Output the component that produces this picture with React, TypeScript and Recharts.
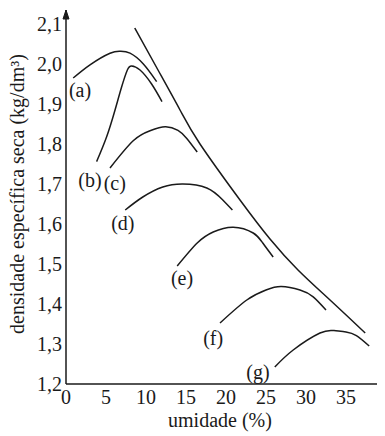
import { LineChart, Line, XAxis, YAxis, ReferenceDot } from "recharts";

// umidade (%) vs densidade (kg/dm³)
const curveA = [
  [0.9, 1.965], [3, 1.998], [5.5, 2.027], [6.8, 2.032], [8, 2.027],
  [9.67, 2.0], [11.33, 1.956],
];
const curveB = [
  [3.83, 1.756], [5.08, 1.818], [6.13, 1.885], [6.96, 1.943], [7.67, 1.985],
  [8.2, 1.995], [9.25, 1.985], [10.7, 1.95], [12, 1.906],
];
const curveC = [
  [5.5, 1.74], [8.4, 1.808], [10.5, 1.833], [12.4, 1.843], [14, 1.834],
  [15.1, 1.814], [16.4, 1.78],
];
const curveD = [
  [7.4, 1.635], [9.6, 1.6675], [12.1, 1.6925], [14.6, 1.7], [17.6, 1.69],
  [19.6, 1.66], [20.8, 1.635],
];
const curveE = [
  [13.9, 1.495], [16.4, 1.5525], [18.4, 1.58], [20.9, 1.592], [23.4, 1.5775],
  [24.6, 1.5525], [25.9, 1.5175],
];
const curveF = [
  [19.25, 1.3525], [22.6, 1.41], [25, 1.435], [26.9, 1.4435], [29.25, 1.435],
  [30.9, 1.418], [32.5, 1.385],
];
const curveG = [
  [26.1, 1.2425], [28.4, 1.285], [31.75, 1.3275], [33.5, 1.3335], [35, 1.33],
  [36.3, 1.321], [37.9, 1.295],
];
const saturation = [
  [8.6, 2.09], [11.5, 1.985], [14.25, 1.885], [16.75, 1.8], [21.75, 1.66],
  [25.5, 1.5625], [29, 1.485], [33, 1.41], [37.4, 1.3275],
];

const curves = [curveA, curveB, curveC, curveD, curveE, curveF, curveG];

const curveLabels = ["(a)", "(b)", "(c)", "(d)", "(e)", "(f)", "(g)"];
const labelX = [1.75, 3, 6.1, 7.1, 14.5, 18.4, 24];
const labelY = [1.935, 1.71, 1.7025, 1.6025, 1.465, 1.315, 1.23];

const xTicks = [0, 5, 10, 15, 20, 25, 30, 35];
const yTicks = [1.2, 1.3, 1.4, 1.5, 1.6, 1.7, 1.8, 1.9, 2.0, 2.1];

const FONT = "Liberation Serif, Times New Roman, DejaVu Serif, serif";
const INK = "#1a1a1a";
const textStyle = { fontFamily: FONT, fontSize: 20 };

const toPoints = (arr: number[][]) => arr.map(([x, y]) => ({ x, y }));

const fmt = (v: number) => v.toFixed(1).replace(".", ",");

export default function App() {
  return (
    <div
      style={{
        position: "absolute",
        left: 0,
        top: 0,
        background: "#fff",
        fontFamily: FONT,
      }}
    >
      <LineChart
        width={385}
        height={436}
        margin={{ top: 10, right: 8, bottom: 22, left: 10 }}
        style={{ fontFamily: FONT }}
      >
        <XAxis
          type="number"
          dataKey="x"
          domain={[0, 38.875]}
          ticks={xTicks}
          allowDataOverflow
          tickLine={false}
          tickSize={5}
          tickMargin={1}
          stroke={INK}
          strokeWidth={1.5}
          height={30}
          tick={{ fill: INK, fontSize: 20, style: textStyle }}
          label={{
            content: () => (
              <text
                x={220}
                y={427}
                textAnchor="middle"
                fill={INK}
                style={textStyle}
              >
                umidade (%)
              </text>
            ),
          }}
        />
        <YAxis
          type="number"
          dataKey="y"
          domain={[1.2, 2.135]}
          ticks={yTicks}
          allowDataOverflow
          tickLine={false}
          tickSize={3}
          tickMargin={1}
          tickFormatter={fmt}
          stroke={INK}
          strokeWidth={1.5}
          width={56}
          tick={{ fill: INK, fontSize: 20, style: textStyle }}
          label={{
            content: () => (
              <text
                x={0}
                y={0}
                transform="translate(24, 194) rotate(-90)"
                textAnchor="middle"
                fill={INK}
                style={textStyle}
              >
                densidade específica seca (kg/dm³)
              </text>
            ),
          }}
        />
        {curves.map((c, i) => (
          <Line
            key={curveLabels[i]}
            data={toPoints(c)}
            dataKey="y"
            type="natural"
            stroke={INK}
            strokeWidth={1.5}
            dot={false}
            activeDot={false}
            isAnimationActive={false}
          />
        ))}
        <Line
          data={toPoints(saturation)}
          dataKey="y"
          type="natural"
          stroke={INK}
          strokeWidth={1.5}
          dot={false}
          activeDot={false}
          isAnimationActive={false}
        />
        {curveLabels.map((name, i) => (
          <ReferenceDot
            key={name}
            x={labelX[i]}
            y={labelY[i]}
            r={0}
            ifOverflow="visible"
            shape={(p: any) => (
              <text
                x={p.cx}
                y={p.cy}
                dy="0.35em"
                textAnchor="middle"
                fill={INK}
                style={textStyle}
              >
                {name}
              </text>
            )}
          />
        ))}
        <ReferenceDot
          x={0}
          y={2.135}
          r={0}
          ifOverflow="visible"
          shape={(p: any) => (
            <path
              d={`M${p.cx},${p.cy} l-3,9 l6,0 z`}
              fill={INK}
              stroke={INK}
            />
          )}
        />
      </LineChart>
    </div>
  );
}
